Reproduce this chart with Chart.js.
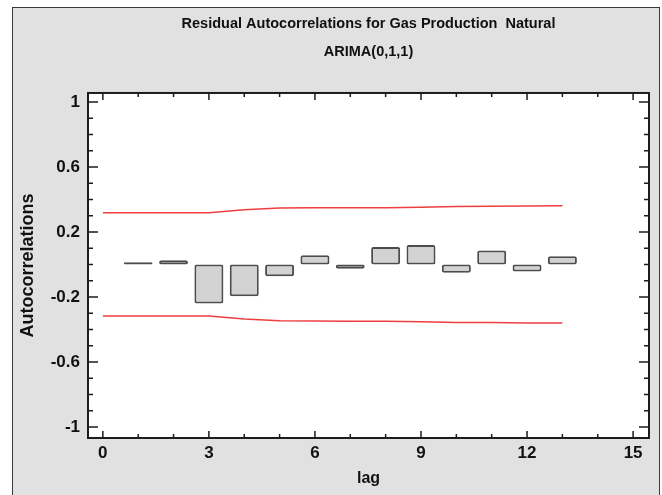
<!DOCTYPE html>
<html>
<head>
<meta charset="utf-8">
<script src="https://cdn.jsdelivr.net/npm/chart.js@4/dist/chart.umd.min.js"></script>
<style>
  html, body { margin: 0; padding: 0; background: #fff; }
  #wrap { position: relative; width: 662px; height: 495px; overflow: hidden; }
  #panel {
    position: absolute; left: 12px; top: 7px; width: 646px; height: 500px;
    border: 1.5px solid #3a3a3a; background: #e1e1e1;
  }
  canvas { position: absolute; left: 0; top: 0; }
</style>
</head>
<body>
<div id="wrap">
  <div id="panel"></div>
  <canvas id="acf" width="662" height="495"></canvas>
</div>
<script>
// residual autocorrelations by lag
const lags = [1, 2, 3, 4, 5, 6, 7, 8, 9, 10, 11, 12, 13];
const acf = [0.014, 0.025, -0.240, -0.196, -0.072, 0.057, -0.026, 0.108, 0.120, -0.051, 0.086, -0.043, 0.051];

// 95% probability limits
const limitLags = [0, 1, 2, 3, 4, 5, 6, 7, 8, 9, 10, 11, 12, 13];
const upperLimit = [0.318, 0.318, 0.318, 0.318, 0.336, 0.347, 0.348, 0.349, 0.349, 0.352, 0.357, 0.358, 0.360, 0.361];
const lowerLimit = [-0.318, -0.318, -0.318, -0.318, -0.336, -0.347, -0.348, -0.349, -0.349, -0.352, -0.357, -0.358, -0.360, -0.361];

const xTicks = [0, 3, 6, 9, 12, 15];
const yTicks = [-1, -0.6, -0.2, 0.2, 0.6, 1];
const titleLines = ['Residual Autocorrelations for Gas Production  Natural', 'ARIMA(0,1,1)'];

const sans = "'Liberation Sans', Arial, sans-serif";
const ink = '#111';

// white plot area, frame, and inward tick marks on every side
const plotFrame = {
  id: 'plotFrame',
  beforeDraw(chart) {
    const { ctx, chartArea: a } = chart;
    ctx.save();
    ctx.fillStyle = '#fff';
    ctx.fillRect(a.left, a.top, a.right - a.left, a.bottom - a.top);
    ctx.restore();
  },
  afterDraw(chart) {
    const { ctx, chartArea: a, scales: { x, y } } = chart;
    ctx.save();
    ctx.strokeStyle = '#1c1c1c';
    ctx.lineWidth = 1.5;
    ctx.beginPath();
    for (let v = 0; v <= 15; v++) {
      const px = x.getPixelForValue(v);
      const len = v % 3 === 0 ? 7 : 4;
      ctx.moveTo(px, a.bottom); ctx.lineTo(px, a.bottom - len);
      ctx.moveTo(px, a.top); ctx.lineTo(px, a.top + len);
    }
    for (let i = 0; i <= 20; i++) {
      const py = y.getPixelForValue(-1 + i * 0.1);
      const len = i % 4 === 0 ? 10 : 5;
      ctx.moveTo(a.left, py); ctx.lineTo(a.left + len, py);
      ctx.moveTo(a.right, py); ctx.lineTo(a.right - len, py);
    }
    ctx.stroke();
    ctx.lineWidth = 2;
    ctx.strokeRect(a.left, a.top, a.right - a.left, a.bottom - a.top);
    ctx.restore();
  }
};

const limitStyle = {
  type: 'line',
  borderColor: 'rgb(238, 62, 62)',
  borderWidth: 1.5,
  pointRadius: 0,
  tension: 0,
  fill: false
};

new Chart(document.getElementById('acf'), {
  type: 'bar',
  data: {
    datasets: [
      {
        label: 'Autocorrelations',
        data: lags.map((l, i) => ({ x: l, y: acf[i] })),
        backgroundColor: '#d2d2d2',
        borderColor: '#4c4c4c',
        borderWidth: 2,
        borderRadius: 2,
        borderSkipped: false,
        barPercentage: 0.82,
        categoryPercentage: 1
      },
      { ...limitStyle, label: 'upper', data: limitLags.map((l, i) => ({ x: l, y: upperLimit[i] })) },
      { ...limitStyle, label: 'lower', data: limitLags.map((l, i) => ({ x: l, y: lowerLimit[i] })) }
    ]
  },
  plugins: [plotFrame],
  options: {
    responsive: false,
    animation: false,
    layout: { padding: { left: 0, right: 13, top: 0, bottom: 0 } },
    plugins: {
      legend: { display: false },
      tooltip: { enabled: false },
      title: {
        display: true,
        fullSize: false,
        text: titleLines,
        color: ink,
        font: { family: sans, size: 14.5, weight: 'bold', lineHeight: 1.93 },
        padding: { top: 10, bottom: 27 }
      }
    },
    scales: {
      x: {
        type: 'linear',
        offset: false,
        min: -0.42,
        max: 15.45,
        afterBuildTicks: s => { s.ticks = xTicks.map(v => ({ value: v })); },
        afterFit: s => { s.height = 57; },
        grid: { display: false, drawTicks: false },
        border: { display: false },
        ticks: { color: ink, padding: 5, font: { family: sans, size: 17, weight: 'bold' }, callback: v => String(v) },
        title: {
          display: true, text: 'lag', color: ink,
          font: { family: sans, size: 16, weight: 'bold' },
          padding: { top: 0, bottom: 7 }
        }
      },
      y: {
        min: -1.068,
        max: 1.055,
        afterBuildTicks: s => { s.ticks = yTicks.map(v => ({ value: v })); },
        afterFit: s => { s.width = 88; },
        grid: { display: false, drawTicks: false },
        border: { display: false },
        ticks: { color: ink, padding: 8, font: { family: sans, size: 17, weight: 'bold' }, callback: v => String(v) },
        title: {
          display: true, text: 'Autocorrelations', color: ink,
          font: { family: sans, size: 18, weight: 'bold' },
          padding: { top: 17, bottom: 0 }
        }
      }
    }
  }
});
</script>
</body>
</html>
